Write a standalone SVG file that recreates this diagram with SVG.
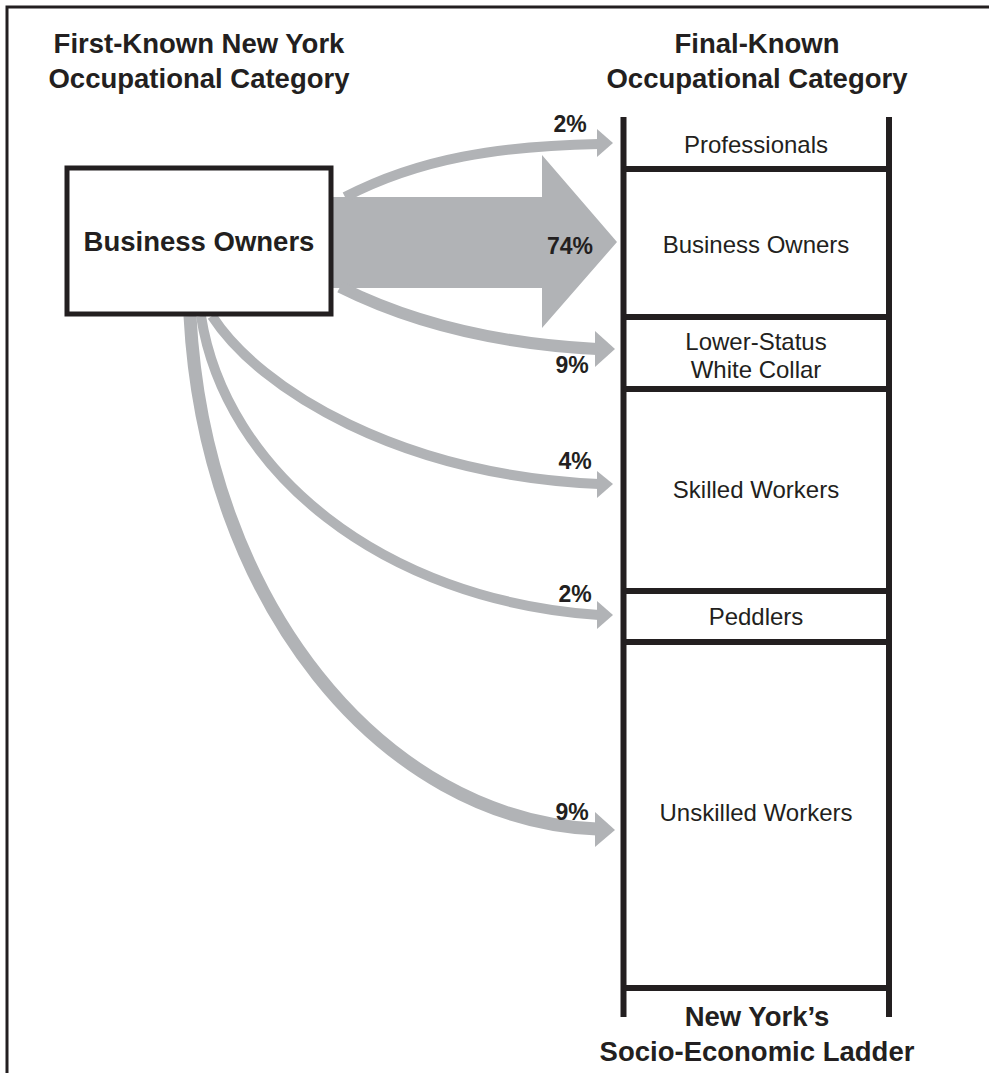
<svg xmlns="http://www.w3.org/2000/svg" width="989" height="1073" viewBox="0 0 989 1073">
  <style>
    .title { font-family: "Liberation Sans", Arial, sans-serif; font-weight: bold; font-size: 27.5px; fill: #231f20; text-anchor: middle; }
    .rung { font-family: "Liberation Sans", Arial, sans-serif; font-size: 24px; fill: #231f20; text-anchor: middle; }
    .pct { font-family: "Liberation Sans", Arial, sans-serif; font-weight: bold; font-size: 23px; fill: #231f20; text-anchor: middle; }
    .flow { fill: none; stroke: #b1b3b6; }
    .head { fill: #b1b3b6; }
    .rail { stroke: #231f20; stroke-width: 6; fill: none; }
  </style>
  <rect width="989" height="1073" fill="#ffffff"/>
  <path d="M 7 1073 V 7 H 989" fill="none" stroke="#231f20" stroke-width="3"/>

  <g id="titles">
    <text class="title" x="199" y="53">First-Known New York</text>
    <text class="title" x="199" y="88">Occupational Category</text>
    <text class="title" x="757" y="53">Final-Known</text>
    <text class="title" x="757" y="88">Occupational Category</text>
  </g>

  <g id="connectors">
    <!-- 74% big arrow -->
    <polygon class="head" points="331,197 542,197 542,155 617,242 542,328 542,288 331,288"/>
    <!-- 2% professionals -->
    <path class="flow" stroke-width="10" d="M 345 197 C 420 158, 500 146, 599 144"/>
    <polygon class="head" points="597,129 613,143 597,157"/>
    <!-- 9% lower-status white collar -->
    <path class="flow" stroke-width="12" d="M 340 287 C 398 316, 480 343, 597 349"/>
    <polygon class="head" points="595,331 615,349 595,367"/>
    <!-- 4% skilled -->
    <path class="flow" stroke-width="10" d="M 212 316 C 260 390, 400 475, 599 484"/>
    <polygon class="head" points="597,471 613,484 597,498"/>
    <!-- 2% peddlers -->
    <path class="flow" stroke-width="10" d="M 201 316 C 225 470, 380 600, 599 615"/>
    <polygon class="head" points="597,601 613,615 597,629"/>
    <!-- 9% unskilled -->
    <path class="flow" stroke-width="13" d="M 190 316 C 205 600, 380 820, 597 829"/>
    <polygon class="head" points="595,812 615,830 595,847"/>
  </g>

  <g id="pcts">
    <text class="pct" x="570" y="132">2%</text>
    <text class="pct" x="570" y="254">74%</text>
    <text class="pct" x="572" y="373">9%</text>
    <text class="pct" x="575" y="469">4%</text>
    <text class="pct" x="575" y="602">2%</text>
    <text class="pct" x="572" y="820">9%</text>
  </g>

  <g id="source-business-owners">
    <rect x="67" y="168" width="264" height="146" fill="#ffffff" stroke="#231f20" stroke-width="5"/>
    <text class="title" x="199" y="251">Business Owners</text>
  </g>

  <g id="ladder">
    <path class="rail" d="M 623.5 117 V 1017 M 889 117 V 1017"/>
    <path class="rail" d="M 623.5 169 H 889 M 623.5 317 H 889 M 623.5 389 H 889 M 623.5 591 H 889 M 623.5 642 H 889 M 623.5 988 H 889"/>
  </g>
  <g id="rung-professionals"><text class="rung" x="756" y="153">Professionals</text></g>
  <g id="rung-business-owners"><text class="rung" x="756" y="253">Business Owners</text></g>
  <g id="rung-lower-status"><text class="rung" x="756" y="350">Lower-Status</text><text class="rung" x="756" y="378">White Collar</text></g>
  <g id="rung-skilled"><text class="rung" x="756" y="498">Skilled Workers</text></g>
  <g id="rung-peddlers"><text class="rung" x="756" y="625">Peddlers</text></g>
  <g id="rung-unskilled"><text class="rung" x="756" y="821">Unskilled Workers</text></g>

  <g id="ladder-caption">
    <text class="title" x="757" y="1026">New York’s</text>
    <text class="title" x="757" y="1061">Socio-Economic Ladder</text>
  </g>
</svg>
